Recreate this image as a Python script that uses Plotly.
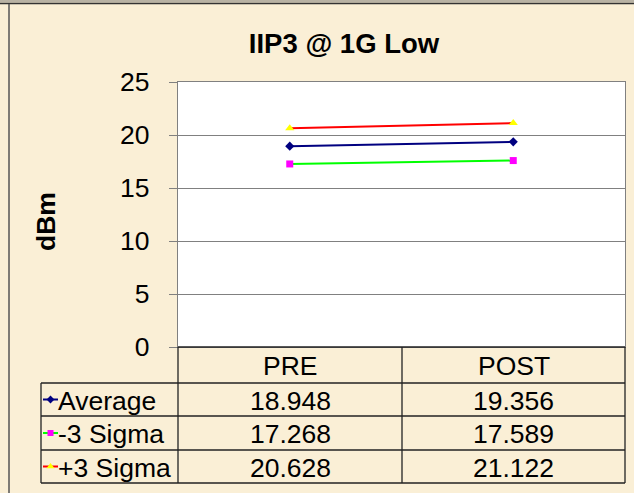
import plotly.graph_objects as go

categories = ["PRE", "POST"]
series_names = ["Average", "-3 Sigma", "+3 Sigma"]
average = [18.948, 19.356]
minus_3sigma = [17.268, 17.589]
plus_3sigma = [20.628, 21.122]
y_ticks = [0, 5, 10, 15, 20, 25]

W, H = 634, 493
FONT = "Liberation Sans, Arial, sans-serif"
BG = "#FAEFD6"
FS = 26.5

# pixel layout (from the reference)
PLOT_L, PLOT_R, PLOT_T, PLOT_B = 178, 625, 82, 347
COL_X = [178, 402, 625]
ROW_Y = [347, 383, 416, 450, 483]
TABLE_L = 41

series = [
    (average, dict(line_color="#000080", marker=dict(symbol="diamond", size=7, color="#000080"))),
    (minus_3sigma, dict(line_color="#00FF00", marker=dict(symbol="square", size=7, color="#FF00FF"))),
    (plus_3sigma, dict(line_color="#FF0000", marker=dict(symbol="triangle-up", size=8, color="#FFFF00"))),
]

fig = go.Figure()
for (vals, st), name in zip(series, series_names):
    fig.add_trace(go.Scatter(x=categories, y=vals, mode="lines+markers", name=name,
                             line=dict(color=st["line_color"], width=2), marker=st["marker"],
                             xaxis="x", yaxis="y", showlegend=False))

# legend keys in table rows (overlay pixel axis)
for i, ((vals, st), name) in enumerate(zip(series, series_names)):
    yc = (ROW_Y[i + 1] + ROW_Y[i + 2]) / 2
    fig.add_trace(go.Scatter(x=[TABLE_L + 2, TABLE_L + 17], y=[yc, yc], mode="lines",
                             line=dict(color=st["line_color"], width=2),
                             xaxis="x2", yaxis="y2", showlegend=False, hoverinfo="skip"))
    m = dict(st["marker"])
    m["size"] = m["size"] - 1
    fig.add_trace(go.Scatter(x=[TABLE_L + 9.5], y=[yc], mode="markers", marker=m,
                             xaxis="x2", yaxis="y2", showlegend=False, hoverinfo="skip"))

shapes = []
# white plot area (plot_bgcolor would also paint the overlay subplot)
shapes.append(dict(type="rect", xref="paper", yref="paper", x0=PLOT_L / W, x1=PLOT_R / W,
                   y0=1 - PLOT_B / H, y1=1 - PLOT_T / H, fillcolor="white", line_width=0, layer="below"))
line = dict(color="#222222", width=1.3)
# table lines
shapes.append(dict(type="line", xref="x2", yref="y2", x0=COL_X[0], x1=COL_X[-1], y0=ROW_Y[0], y1=ROW_Y[0], line=line))
for y in ROW_Y[1:]:
    shapes.append(dict(type="line", xref="x2", yref="y2", x0=TABLE_L, x1=COL_X[-1], y0=y, y1=y, line=line))
for x in COL_X:
    shapes.append(dict(type="line", xref="x2", yref="y2", x0=x, x1=x, y0=ROW_Y[0], y1=ROW_Y[-1], line=line))
shapes.append(dict(type="line", xref="x2", yref="y2", x0=TABLE_L, x1=TABLE_L, y0=ROW_Y[1], y1=ROW_Y[-1], line=line))
# chart frame
shapes.append(dict(type="rect", xref="x2", yref="y2", x0=0, x1=W, y0=0, y1=2.5,
                   fillcolor="#B8B2A4", line_width=0, layer="above"))
shapes.append(dict(type="line", xref="x2", yref="y2", x0=0, x1=W, y0=3.5, y1=3.5,
                   line=dict(color="#333333", width=1.5)))
shapes.append(dict(type="line", xref="x2", yref="y2", x0=9, x1=9, y0=4, y1=H,
                   line=dict(color="#555555", width=1.5)))

annotations = []
txt = dict(family=FONT, size=FS, color="black")
for j, c in enumerate(categories):
    annotations.append(dict(x=(COL_X[j] + COL_X[j + 1]) / 2, y=(ROW_Y[0] + ROW_Y[1]) / 2 + 1,
                            xref="x2", yref="y2", text=c, showarrow=False, font=txt))
for i, (vals, name) in enumerate(zip([average, minus_3sigma, plus_3sigma], series_names)):
    yc = (ROW_Y[i + 1] + ROW_Y[i + 2]) / 2 + 1
    annotations.append(dict(x=TABLE_L + 15, y=yc, xref="x2", yref="y2", text=name,
                            xanchor="left", showarrow=False, font=txt))
    for j, v in enumerate(vals):
        annotations.append(dict(x=(COL_X[j] + COL_X[j + 1]) / 2, y=yc, xref="x2", yref="y2",
                                text=f"{v:.3f}", showarrow=False, font=txt))
annotations.append(dict(x=46, y=222, xref="x2", yref="y2", text="<b>dBm</b>",
                        textangle=-90, showarrow=False, font=txt))

fig.update_layout(
    template="none",
    width=W, height=H,
    margin=dict(l=0, r=0, t=0, b=0, pad=0, autoexpand=False),
    paper_bgcolor=BG,
    plot_bgcolor="rgba(0,0,0,0)",
    title=dict(text="<b>IIP3 @ 1G Low</b>", x=344 / W, y=1 - 43 / H, xanchor="center",
               yanchor="middle", font=dict(family=FONT, size=27.5, color="black")),
    xaxis=dict(domain=[PLOT_L / W, PLOT_R / W], type="category", range=[-0.5, 1.5],
               showticklabels=False, showgrid=False, showline=True, mirror=True, automargin=False,
               linecolor="#808080", linewidth=1.3, zeroline=False, fixedrange=True),
    yaxis=dict(domain=[1 - PLOT_B / H, 1 - PLOT_T / H], range=[0, 25], tickvals=y_ticks,
               showgrid=True, gridcolor="#808080", gridwidth=1.3, zeroline=False, automargin=False,
               showline=True, mirror=True, linecolor="#808080", linewidth=1.3,
               ticks="outside", ticklen=8, tickcolor="#808080", tickwidth=1.3,
               ticklabelstandoff=14, tickfont=dict(family=FONT, size=FS, color="black")),
    xaxis2=dict(domain=[0, 1], range=[0, W], visible=False, fixedrange=True, automargin=False),
    yaxis2=dict(domain=[0, 1], range=[H, 0], visible=False, fixedrange=True, automargin=False),
    shapes=shapes,
    annotations=annotations,
)

fig.write_html("out.html", config={"displayModeBar": False},
               post_script="document.body.style.margin='0';document.body.style.background='%s';" % BG)
